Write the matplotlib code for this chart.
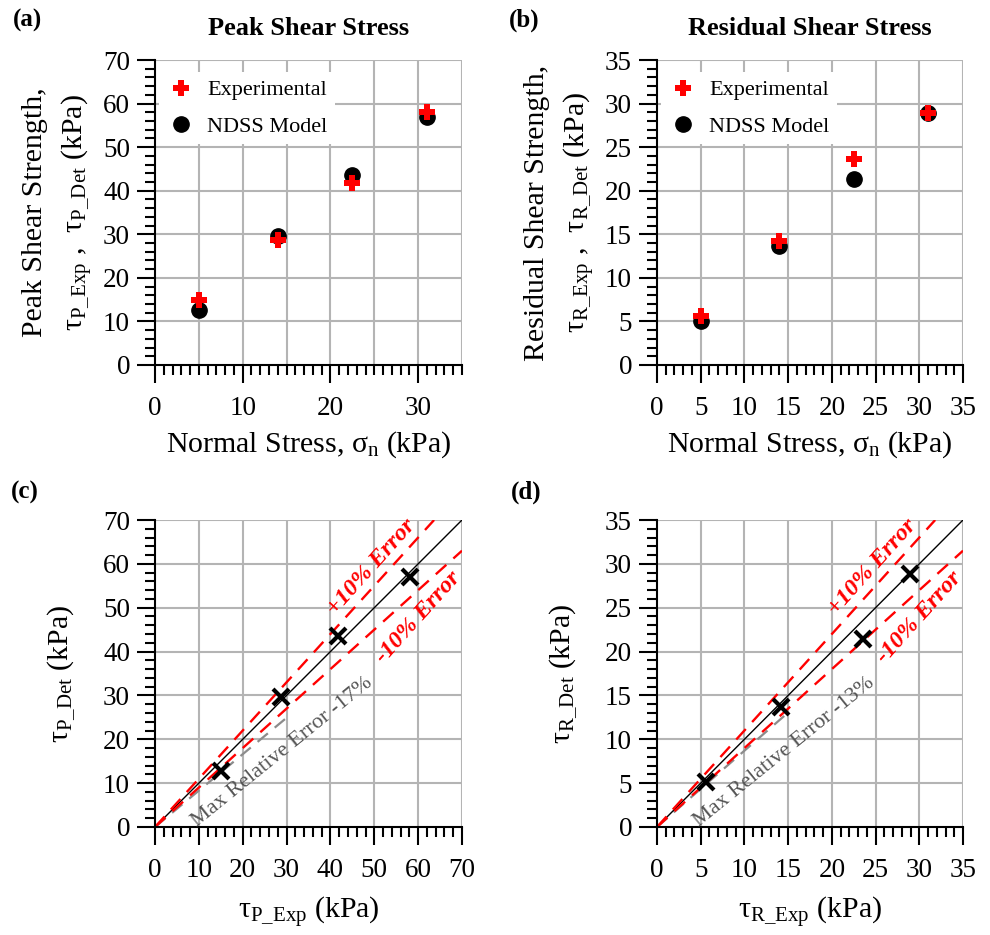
import numpy as np
import matplotlib
matplotlib.use('Agg')
import matplotlib.pyplot as plt
from matplotlib.ticker import MultipleLocator

plt.rcParams['font.family'] = ['Liberation Serif', 'DejaVu Serif']
plt.rcParams['mathtext.fontset'] = 'custom'
plt.rcParams['mathtext.rm'] = 'Liberation Serif'
plt.rcParams['mathtext.it'] = 'Liberation Serif:italic'

# data
sigma_n = [5, 14, 22.5, 31]
peak_exp = [15.0, 28.8, 41.8, 58.1]
peak_det = [12.7, 29.7, 43.6, 57.0]
res_exp = [5.6, 14.2, 23.6, 28.9]
res_det = [5.1, 13.7, 21.4, 28.9]
max_err_peak = -17   # %
max_err_res = -13    # %

GRID = '#b4b4b4'
TICK_FS = 19.5
LAB_FS = 21.5
TITLE_FS = 19
LEG_FS = 16


def setup(ax, xlim, ylim, xmajor, xminor, ymajor, yminor, xgrid, ygrid):
    ax.set_xlim(0, xlim)
    ax.set_ylim(0, ylim)
    for v in np.arange(xgrid, xlim + 0.01, xgrid):
        ax.axvline(v, color=GRID, lw=1.5, zorder=0)
    for v in np.arange(ygrid, ylim + 0.01, ygrid):
        ax.axhline(v, color=GRID, lw=1.5, zorder=0)
    ax.xaxis.set_major_locator(MultipleLocator(xmajor))
    ax.yaxis.set_major_locator(MultipleLocator(ymajor))
    ax.xaxis.set_minor_locator(MultipleLocator(xminor))
    ax.yaxis.set_minor_locator(MultipleLocator(yminor))
    ax.spines['top'].set_visible(False)
    ax.spines['right'].set_visible(False)
    for s in ('left', 'bottom'):
        ax.spines[s].set_linewidth(1.5)
    ax.tick_params(which='major', direction='out', length=13, width=1.5,
                   labelsize=TICK_FS, pad=5)
    ax.tick_params(which='minor', direction='out', length=7, width=1.5)
    ax.tick_params(axis='x', which='major', pad=9)


fig = plt.figure(figsize=(9.9, 9.35), dpi=100)
W, H = 990, 935


def add_ax(left, top, right, bottom):
    return fig.add_axes([left / W, 1 - bottom / H, (right - left) / W, (bottom - top) / H])


ax_a = add_ax(155, 60, 462, 365)
ax_b = add_ax(657, 60, 963, 365)
ax_c = add_ax(155, 520, 462, 827)
ax_d = add_ax(657, 520, 963, 827)


def strength(ax, exp, det, title, ylab):
    ax.plot(sigma_n, det, 'o', color='black', ms=11, label='NDSS Model', zorder=3)
    ax.plot(sigma_n, exp, 'P', color='red', ms=11, mew=0, label='Experimental', zorder=4)
    h, lb = ax.get_legend_handles_labels()
    ax.legend(h[::-1], lb[::-1], loc='upper left', bbox_to_anchor=(0.0, 0.975),
              fontsize=LEG_FS, frameon=True, fancybox=False, edgecolor='none',
              framealpha=1, handletextpad=0.6, labelspacing=0.7, handlelength=1.2,
              borderaxespad=0.2, borderpad=0.35)
    ax.set_title(title, fontsize=TITLE_FS, fontweight='bold', pad=18)
    ax.set_xlabel(r'Normal Stress, $\mathregular{\sigma_n}$ (kPa)', fontsize=LAB_FS, labelpad=6)
    ax.set_ylabel(ylab, fontsize=LAB_FS, labelpad=6, linespacing=1.5)


# (a) peak vs normal stress
setup(ax_a, 35, 70, 10, 1, 10, 2, 5, 10)
strength(ax_a, peak_exp, peak_det, 'Peak Shear Stress',
         'Peak Shear Strength,\n' +
         r'$\mathregular{\tau_{P\_Exp}}$ ,  $\mathregular{\tau_{P\_Det}}$ (kPa)')

# (b) residual vs normal stress
setup(ax_b, 35, 35, 5, 1, 5, 1, 5, 5)
strength(ax_b, res_exp, res_det, 'Residual Shear Stress',
         'Residual Shear Strength,\n' +
         r'$\mathregular{\tau_{R\_Exp}}$ ,  $\mathregular{\tau_{R\_Det}}$ (kPa)')


def comparison(ax, lim, exp, det, err, gray_end, xlab, ylab):
    line = np.array([0, lim])
    ax.plot(line, line, color='black', lw=1, zorder=2)
    up = np.array([0, lim / 1.1])
    ax.plot(up, up * 1.1, color='red', lw=1.7, dashes=(6, 4), zorder=2)
    ax.plot(line, line * 0.9, color='red', lw=1.7, dashes=(6, 4), zorder=2)
    g = np.array([0, gray_end])
    ax.plot(g, g * (1 + err / 100), color='#8c8c8c', lw=1.6, dashes=(6, 4), zorder=1.5)
    ax.plot(exp, det, 'x', color='black', ms=11, mew=3, zorder=4)
    s = lim / 70
    ax.text(49.4 * s, 59.3 * s, '+10% Error', color='red', fontsize=17.5,
            fontweight='bold', fontstyle='italic', rotation=48,
            ha='center', va='center', rotation_mode='anchor')
    ax.text(60.0 * s, 47.8 * s, '-10% Error', color='red', fontsize=17.5,
            fontweight='bold', fontstyle='italic', rotation=48,
            ha='center', va='center', rotation_mode='anchor')
    ax.text(29.0 * s, 17.0 * s, 'Max Relative Error %d%%' % err, color='#555555',
            fontsize=16, rotation=39, ha='center', va='center', rotation_mode='anchor')
    ax.set_xlabel(xlab, fontsize=LAB_FS, labelpad=9)
    ax.set_ylabel(ylab, fontsize=LAB_FS, labelpad=18)


setup(ax_c, 70, 70, 10, 2, 10, 2, 10, 10)
comparison(ax_c, 70, peak_exp, peak_det, max_err_peak, 30,
           r'$\mathregular{\tau_{P\_Exp}}$ (kPa)', r'$\mathregular{\tau_{P\_Det}}$ (kPa)')
setup(ax_d, 35, 35, 5, 1, 5, 1, 5, 5)
comparison(ax_d, 35, res_exp, res_det, max_err_res, 15,
           r'$\mathregular{\tau_{R\_Exp}}$ (kPa)', r'$\mathregular{\tau_{R\_Det}}$ (kPa)')

for x, y, t in [(13, 20, '(a)'), (509, 20, '(b)'), (11, 492, '(c)'), (511, 492, '(d)')]:
    fig.text(x / W, 1 - y / H, t, fontsize=18, fontweight='bold', va='center', ha='left')

fig.savefig('out.png', dpi=100)
